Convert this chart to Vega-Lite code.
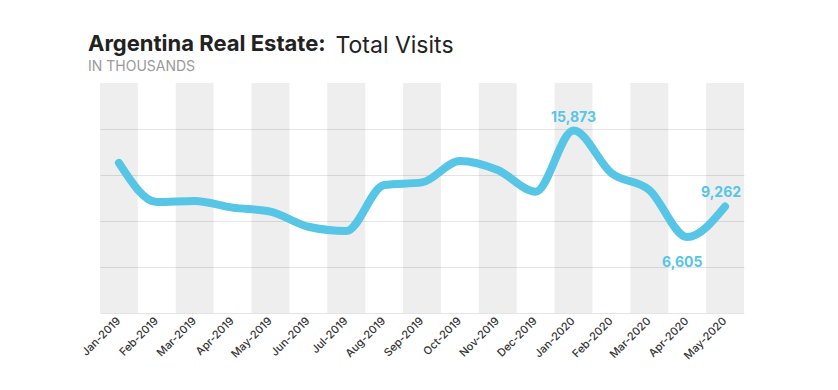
{
  "$schema": "https://vega.github.io/schema/vega-lite/v6.json",
  "width": 644,
  "height": 230,
  "autosize": {"type": "none"},
  "padding": {"left": 100, "top": 83, "right": 94, "bottom": 77},
  "background": "white",
  "config": {"view": {"stroke": null}, "font": "Inter"},
  "title": {
    "text": "Argentina Real Estate:",
    "subtitle": "IN THOUSANDS",
    "anchor": "start",
    "frame": "group",
    "dx": -12,
    "offset": -41,
    "font": "Inter",
    "fontSize": 22,
    "fontWeight": 700,
    "color": "#222222",
    "subtitleFont": "Inter",
    "subtitleFontSize": 14,
    "subtitleColor": "#9a9a9a",
    "subtitlePadding": 4
  },
  "data": {
    "values": [
      {"month": "Jan-2019", "visits": 13050},
      {"month": "Feb-2019", "visits": 9650},
      {"month": "Mar-2019", "visits": 9740},
      {"month": "Apr-2019", "visits": 9160},
      {"month": "May-2019", "visits": 8810},
      {"month": "Jun-2019", "visits": 7500},
      {"month": "Jul-2019", "visits": 7130},
      {"month": "Aug-2019", "visits": 11130},
      {"month": "Sep-2019", "visits": 11360},
      {"month": "Oct-2019", "visits": 13220},
      {"month": "Nov-2019", "visits": 12430},
      {"month": "Dec-2019", "visits": 10550},
      {"month": "Jan-2020", "visits": 15873},
      {"month": "Feb-2020", "visits": 12170},
      {"month": "Mar-2020", "visits": 10700},
      {"month": "Apr-2020", "visits": 6605},
      {"month": "May-2020", "visits": 9262}
    ]
  },
  "transform": [{"window": [{"op": "row_number", "as": "idx"}]}],
  "layer": [
    {
      "mark": {"type": "bar", "fill": "#000000"},
      "encoding": {
        "x": {
          "field": "month", "type": "nominal", "sort": null,
          "scale": {"paddingInner": 0, "paddingOuter": 0},
          "axis": {
            "title": null, "labelAngle": -45, "labelAlign": "right", "labelBaseline": "middle",
            "labelFont": "Inter", "labelFontSize": 11, "labelFontWeight": 500, "labelColor": "#333333",
            "labelPadding": 6, "ticks": false, "domain": false, "grid": false
          }
        },
        "y": {"datum": 20000, "type": "quantitative", "scale": {"domain": [0, 20000], "nice": false},
          "axis": {
            "title": "Total Visits", "labels": false, "ticks": false, "domain": false,
            "grid": true, "gridColor": "#e4e4e4", "gridWidth": 1,
            "values": [0, 4000, 8000, 12000, 16000],
            "titleAngle": 0, "titleX": 235, "titleY": -31, "titleAlign": "left", "titleBaseline": "alphabetic",
            "titleFont": "Inter", "titleFontSize": 23, "titleFontWeight": 400, "titleColor": "#222222"
          }
        },
        "y2": {"datum": 0},
        "fillOpacity": {"condition": {"test": "datum.idx % 2 === 1", "value": 0.065}, "value": 0}
      }
    },
    {
      "mark": {"type": "line", "color": "#56c5e6", "strokeWidth": 8, "strokeCap": "round", "strokeJoin": "round", "interpolate": "monotone"},
      "encoding": {
        "x": {"field": "month", "type": "nominal", "sort": null},
        "y": {"field": "visits", "type": "quantitative"}
      }
    },
    {
      "transform": [{"filter": "datum.month === 'Jan-2020'"}],
      "mark": {"type": "text", "color": "#56c5e6", "font": "Inter", "fontSize": 14, "fontWeight": 700, "baseline": "bottom", "dy": -5},
      "encoding": {
        "x": {"field": "month", "type": "nominal", "sort": null},
        "y": {"field": "visits", "type": "quantitative"},
        "text": {"field": "visits", "type": "quantitative", "format": ","}
      }
    },
    {
      "transform": [{"filter": "datum.month === 'May-2020'"}],
      "mark": {"type": "text", "color": "#56c5e6", "font": "Inter", "fontSize": 14, "fontWeight": 700, "baseline": "bottom", "dy": -6, "dx": -4},
      "encoding": {
        "x": {"field": "month", "type": "nominal", "sort": null},
        "y": {"field": "visits", "type": "quantitative"},
        "text": {"field": "visits", "type": "quantitative", "format": ","}
      }
    },
    {
      "transform": [{"filter": "datum.month === 'Apr-2020'"}],
      "mark": {"type": "text", "color": "#56c5e6", "font": "Inter", "fontSize": 14, "fontWeight": 700, "baseline": "top", "dy": 19, "dx": -5},
      "encoding": {
        "x": {"field": "month", "type": "nominal", "sort": null},
        "y": {"field": "visits", "type": "quantitative"},
        "text": {"field": "visits", "type": "quantitative", "format": ","}
      }
    }
  ]
}
